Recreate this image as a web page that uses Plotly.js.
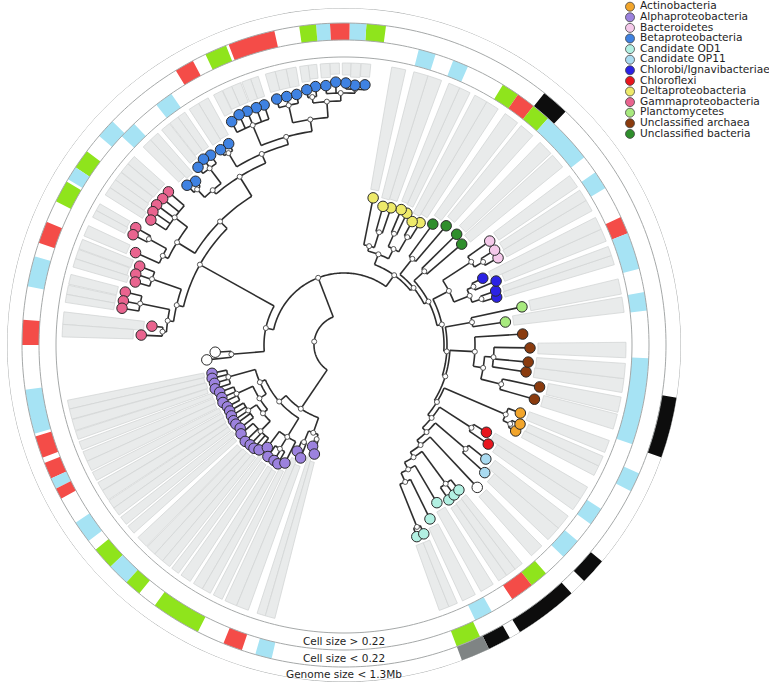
<!DOCTYPE html>
<html><head><meta charset="utf-8">
<script src="https://cdn.plot.ly/plotly-3.0.1.min.js"></script>
<style>html,body{margin:0;padding:0;background:#fff}#chart{width:769px;height:689px}</style>
</head><body><div id="chart"></div>
<script>
// ---------------- DATA ----------------
const cladeNames = ['Actinobacteria','Alphaproteobacteria','Bacteroidetes','Betaproteobacteria','Candidate OD1','Candidate OP11','Chlorobi/Ignavibacteriae','Chloroflexi','Deltaproteobacteria','Gammaproteobacteria','Planctomycetes','Unclassified archaea','Unclassified bacteria'];

// leaves (ordered around the circle): id, angle (deg), radius (distance from root), parent node, clade index (-1 = unassigned)
const leafIds = ['Cy7','Cy6','Cy5','Cy4','Cy3','Cy2','Cy1','Wh1','Lb2','Lb1','Rd2','Rd1','Or3','Or2','Or1','Ar6','Ar5','Ar4','Ar3','Ar2','Ar1','Pl2','Pl1','Ch4','Ch3','Ch2','Ch1','Bc3','Bc2','Bc1','G4','G3','G2','G1','Y7','Y6','Y5','Y4','Y3','Y2','Y1',
 'B22','B21','B20','B19','B18','B17','B16','B15','B14','B13','B12','B11','B10','B9','B8','B7','B6','B5','B4','B3','B2','B1',
 'Gm1','Gm2','Gm3','Gm4','Gm5','Gm6','Gm7','Gm8','Gm9','Gm10','Gm11','Gm12','Gm13','Gm14','Gm15','Gm16','W1','W2',
 'Al1','Al2','Al3','Al4','Al5','Al6','Al7','Al8','Al9','Al10','Al11','Al12','Al13','Al14','Al15','Al16','Al17','Al18','Al19','Al20','Al21','Al22','Al23','Al24','Al25','Al26','Al27'];
const leafAngle = [-69.2,-67.1,-63.7,-59.5,-55.9,-53.7,-51.6,-46.9,-42.2,-38.8,-34.5,-31.5,-26.6,-24.2,-21.1,-15.9,-12.1,-8.4,-5.3,-0.9,3.5,8.1,12.1,17.4,19.6,22.8,25.7,29.5,32.2,35.5,40.6,44.5,49.4,53.7,58.1,61.1,64.5,67.1,71.1,74.3,78.8,
 85.4,87.6,89.6,91.8,94.0,96.3,98.3,100.7,103.0,105.3,108.4,110.3,112.5,114.5,116.7,119.8,122.3,125.1,127.1,129.4,132.2,134.5,
 138.9,141.1,143.2,145.1,147.1,150.6,152.4,156.1,158.9,161.2,163.2,166.4,168.7,170.6,174.4,177.2,183.2,186.2,
 192.1,194.2,196.5,198.8,200.8,203.3,205.4,207.9,210.0,212.2,214.4,216.2,218.7,220.8,224.3,226.8,228.9,231.0,233.2,235.7,238.8,240.9,243.4,246.2,249.0,252.8,254.8];
const leafRadius = [205,205,194,183,187,186,185,195,190,182,175,167,192,193,189,198,200,184,185,186,179,163,182,160,161,165,154,177,178,179,155,158,157,150,144,141,146,147,145,144,150,
 261,260,262,263,260,260,258,255,255,255,253,253,253,253,250,232,231,232,233,230,221,224,
 233,233,234,233,230,239,238,228,219,220,218,225,225,225,193,203,129,138,
 135,136,135,136,133,133,134,132,132,133,134,134,133,136,138,137,137,135,128,135,135,136,132,116,121,106,113];
const leafParent = ['cy67','cy67','R12','R11','cy123','cy123','cy123','R9','op11','op11','chf','chf','or23','or23','ora','ac','ac','ab','ab','ab','arc','pla','pla','ch34','ch34','ch12','ch12','bc23','bc23','BAC','gg34','gg34','gg12','gg12','y67','y67','y45','y45','y23','y23','y1g',
 'b20_22','b20_22','b20_22','b18_22','b18_22','b16_17','b16_17','b13_15','b13_15','b13_15','b8_12','b8_12','b8_12','b8_12','b8_12','b67','b67','b35','b35','b35','b12','b12',
 'g1_5','g1_5','g1_5','g1_5','g1_5','g67','g67','g6_8','g9_11','g9_11','g9_11','g12_14','g12_14','g12_14','g15_16','g15_16','W','W',
 'p1_4','p1_4','p1_4','p1_4','p5_8','p5_8','p5_8','p5_8','p9_13','p9_13','p9_13','p9_13','p9_13','p14_18','p14_18','p14_18','p14_18','p14_18','pA2','p2022','p2022','p2022','pA2','p2425','p2425','p2627','p2627'];
const leafClade = [4,4,4,4,4,4,4,-1,5,5,7,7,0,0,0,11,11,11,11,11,11,10,10,6,6,6,6,2,2,2,12,12,12,12,8,8,8,8,8,8,8,
 3,3,3,3,3,3,3,3,3,3,3,3,3,3,3,3,3,3,3,3,3,3,
 9,9,9,9,9,9,9,9,9,9,9,9,9,9,9,9,-1,-1,
 1,1,1,1,1,1,1,1,1,1,1,1,1,1,1,1,1,1,1,1,1,1,1,1,1,1,1];
// 1 = leaf carries a grey highlight sector
const leafShade = [1,1,1,1,1,1,1,1,1,1,1,1,1,1,1,1,1,1,1,1,0,1,1,1,1,1,1,1,1,1,1,1,1,1,1,1,1,1,1,1,1,
 1,1,1,1,1,1,1,1,1,1,1,1,1,1,1,1,1,1,1,1,1,1,
 1,1,1,1,1,1,1,1,1,1,1,1,1,1,1,1,0,0,
 1,1,1,1,1,1,1,1,1,1,1,1,1,1,1,1,1,1,1,1,1,1,1,1,1,1,1];

// internal nodes: id, parent, radius (distance from root)
const nodeIds = ['ROOT','N0','N1','PUR','R1','YEL','y1g','y23','y4g','y45','y67','R2','gg12','R2b','gg34','R3','BD','BAC','bc23','CHL','ch12','ch34','R4','pla','R5','arc','aa','ab','ac','R6','ora','or23','R7','chf','R8','op11','R9','R10','cy123','R11','R12','cy67',
 'GB','W','X','GL','BETA','b1_5','b12','b35','bU1','b67','bU2','b8_12','bU3','b13_15','b16_22','b16_17','b18_22','b20_22','GU','g1_5','g6_8','g67','g9_11','g12_16','g12_14','g15_16',
 'pA','pA1','p1_4','pA1b','p5_8','pA1c','p9_13','p14_18','pA2','p2022','pB','p2425','p2627'];
const nodeParent = ['','ROOT','N0','ROOT','N0','R1','YEL','y1g','YEL','y4g','y4g','R1','R2','R2','R2b','R2b','R3','BD','BAC','BD','CHL','CHL','R3','R4','R4','R5','arc','aa','aa','R5','R6','ora','R6','R7','R7','R8','R8','R9','R10','R10','R11','R12',
 'N1','N1','GB','GB','X','BETA','b1_5','b1_5','BETA','bU1','bU1','bU2','bU2','bU3','bU3','b16_22','b16_22','b18_22','X','GU','GU','g6_8','GL','GL','g12_16','g12_16',
 'PUR','pA','pA1','pA1','pA1b','pA1b','pA1c','pA1c','pA','pA2','PUR','pB','pB'];
const nodeRadius = [30,72,80,77,86,97,102,118,108,122,125,90,110,95,109,100,118,152,162,135,142,145,103,130,106,131,141,150,162,109,176,184,114,152,120,160,126,132,172,140,150,196,
 165,113,175,172,198,203,214,222,208,224,216,238,228,246,244,250,252,256,196,212,202,222,203,178,208,182,
 86,92,120,100,118,106,116,120,108,122,93,105,98];

// outer annotation rings
const ringLabels = ['Cell size > 0.22','Cell size < 0.22','Genome size < 1.3Mb'];
const segRing = [0,0,0,0,0,0,0,0,0,0,0,0,0,0,0,0,0,0,
 1,1,1,1,1,1,1,1,1,1,1,1,1,1,1,1,1,1,1,1,1,1,1,1,1,1,1,1,1,1,
 2,2,2,2,2,2];
const segFrom = [72.5,66,55.2,51.6,48,38,31,21.5,14.5,6.5,-19,-36,-44,-52,-56.5,-64.5,124.5,133.5,
 82.5,86,89,92.5,95,102.5,111.5,118,136,143,146.5,149.5,157.5,164,175.5,188,196.5,201.5,204.5,206.5,213.5,219.5,223.5,227.5,234,248,254,-69.5,-27,
 46.5,-19.5,-44.5,-58.5,-64.5,-69.5];
const segTo = [75.8,69,58.6,55.2,51.6,48,34.5,24.8,21.5,10,-2.5,-32.5,-40,-48.5,-52,-61,128,136.8,
 86,89,92.5,95,98,111,115.5,121.5,139.5,146.5,149,153.5,161.5,169.5,180,196,200.5,204.5,206.5,208.5,217.5,223.5,227.5,230.5,243,251.5,257,-65,-23.5,
 51.5,-9,-40,-47.5,-60.5,-64.5];
const segKind = ['blue','blue','green','red','green','blue','blue','red','blue','blue','blue','blue','blue','green','red','blue','blue','blue',
 'green','blue','red','blue','green','red','green','red','blue','green','blue','green','red','blue','red','blue','red','red','blue','red','blue','green','blue','green','green','red','blue','green','blue',
 'black','black','black','black','black','grey'];

// ---------------- STYLE ----------------
const cladeColors = ['#f2a52b','#9c82de','#f5c9ea','#3f82e2','#b2f0e2','#aadbf1','#2b22e4','#e8161e','#eeea6a','#e9648f','#a8ea7e','#8a3b0e','#2f8e2c'];
const kindColors = {red:'#f44c48', green:'#8fe41c', blue:'#a6e3f4', black:'#0d0d0d', grey:'#7f8484'};
const ringEdges = [288,305,322,337];
const shadeOuter = 282;
const groupGap = 0.5;
const FONT = 'DejaVu Sans, sans-serif';

// ---------------- LAYOUT OF TREE ----------------
const pos = {}, children = {}, parentOf = {};
function addChild(p,c){ (children[p] = children[p] || []).push(c); parentOf[c] = p; }
leafIds.forEach((id,i)=>{ pos[id] = {r:leafRadius[i], a:leafAngle[i]}; addChild(leafParent[i], id); });
nodeIds.forEach((id,i)=>{ pos[id] = {r:nodeRadius[i]}; if(nodeParent[i]) addChild(nodeParent[i], id); });
function angleOf(id){
  const p = pos[id];
  if (p.a !== undefined) return p.a;
  let mn = Infinity, mx = -Infinity;
  children[id].forEach(c=>{ const a = angleOf(c); mn = Math.min(mn,a); mx = Math.max(mx,a); });
  p.amin = mn; p.amax = mx; p.a = (mn+mx)/2; return p.a;
}
nodeIds.forEach(angleOf);

const lineR = [], lineT = [];
function addPath(pts){ pts.forEach(q=>{ lineR.push(q[0]); lineT.push(q[1]); }); lineR.push(null); lineT.push(null); }
Object.keys(parentOf).forEach(id=>{
  const p = parentOf[id];
  addPath([[pos[p].r, pos[id].a],[pos[id].r, pos[id].a]]);
});
nodeIds.forEach(id=>{
  const p = pos[id], pts = [];
  for (let a = p.amin; a < p.amax; a += 1) pts.push([p.r, a]);
  pts.push([p.r, p.amax]);
  addPath(pts);
});

// shade sectors (one per shaded leaf, small gap between different sub-clades)
const shTheta = [], shWidth = [], shBase = [], shLen = [];
leafIds.forEach((id,i)=>{
  if (!leafShade[i]) return;
  const prev = i>0 ? leafAngle[i]-leafAngle[i-1] : 99;
  const next = i<leafIds.length-1 ? leafAngle[i+1]-leafAngle[i] : 99;
  const half = Math.min(prev, next, 3.4)/2;
  let lo = leafAngle[i]-half, hi = leafAngle[i]+half;
  if (i>0 && leafParent[i-1]!==leafParent[i]) lo += groupGap/2;
  if (i<leafIds.length-1 && leafParent[i+1]!==leafParent[i]) hi -= groupGap/2;
  const b = leafRadius[i] + 8;
  shTheta.push((lo+hi)/2); shWidth.push(hi-lo); shBase.push(b); shLen.push(shadeOuter - b);
});

// ring circles
const circR = [], circT = [];
ringEdges.forEach(r=>{ for(let a=0;a<=360;a+=1){ circR.push(r); circT.push(a);} circR.push(null); circT.push(null); });

// ring blocks
const blkTheta = segFrom.map((f,i)=>(f+segTo[i])/2);
const blkWidth = segFrom.map((f,i)=>segTo[i]-f);
const blkBase = segRing.map(k=>ringEdges[k]);
const blkLen = segRing.map(k=>ringEdges[k+1]-ringEdges[k]);
const blkColor = segKind.map(k=>kindColors[k]);

const traces = [];
traces.push({type:'barpolar', theta:shTheta, width:shWidth, base:shBase, r:shLen,
  marker:{color:'#e9ebeb', line:{color:'#d3d6d6', width:0.8}}, hoverinfo:'skip'});
traces.push({type:'barpolar', theta:blkTheta, width:blkWidth, base:blkBase, r:blkLen,
  marker:{color:blkColor, line:{width:0}}, hoverinfo:'skip'});
traces.push({type:'scatterpolar', mode:'lines', r:circR, theta:circT,
  line:{color:'#a5a8a8', width:1}, hoverinfo:'skip'});
traces.push({type:'scatterpolar', mode:'lines', r:lineR, theta:lineT, connectgaps:false,
  line:{color:'#2e2e2e', width:1.6}, hoverinfo:'skip'});
traces.push({type:'scatterpolar', mode:'markers', r:nodeIds.map(id=>pos[id].r), theta:nodeIds.map(id=>pos[id].a),
  marker:{size:5, color:'#ffffff', line:{color:'#555', width:1}}, hoverinfo:'skip'});
traces.push({type:'scatterpolar', mode:'markers', r:leafRadius, theta:leafAngle,
  marker:{size:10.5, color:leafClade.map(c=>c<0?'#ffffff':cladeColors[c]), line:{color:'#2a2a2a', width:1}}, hoverinfo:'skip'});
traces.push({type:'scatterpolar', mode:'text', r:ringEdges.slice(0,3).map((r,k)=>(r+ringEdges[k+1])/2+1), theta:[270,270,270],
  text:ringLabels, textfont:{family:FONT, size:10.5, color:'#1e1e1e'}, hoverinfo:'skip'});
// legend
const legIdx = cladeNames.map((_,i)=>i);
traces.push({type:'scatter', mode:'markers', x:legIdx.map(()=>10), y:legIdx, xaxis:'x', yaxis:'y',
  marker:{size:9, color:cladeColors, line:{color:'#444', width:0.8}}, hoverinfo:'skip'});
traces.push({type:'scatter', mode:'text', x:legIdx.map(()=>20), y:legIdx, text:cladeNames, textposition:'middle right',
  textfont:{family:FONT, size:10.6, color:'#1e1e1e'}, xaxis:'x', yaxis:'y', hoverinfo:'skip', cliponaxis:false});

const layout = {
  width:769, height:689, margin:{l:0,r:0,t:0,b:0}, paper_bgcolor:'#ffffff', plot_bgcolor:'rgba(0,0,0,0)', showlegend:false,
  polar:{ domain:{x:[7/769, 681/769], y:[7/689, 681/689]}, bgcolor:'rgba(0,0,0,0)', barmode:'overlay', hole:0,
    radialaxis:{range:[0,337], visible:false, showgrid:false, showline:false, ticks:''},
    angularaxis:{visible:false, rotation:0, direction:'counterclockwise', showgrid:false, showline:false, ticks:''} },
  xaxis:{domain:[620/769,1], range:[0,149], visible:false, showgrid:false, zeroline:false},
  yaxis:{domain:[1-150/689,1], range:[13.52,-0.632], visible:false, showgrid:false, zeroline:false}
};
Plotly.newPlot('chart', traces, layout, {staticPlot:true, displayModeBar:false});
</script>
</body></html>
